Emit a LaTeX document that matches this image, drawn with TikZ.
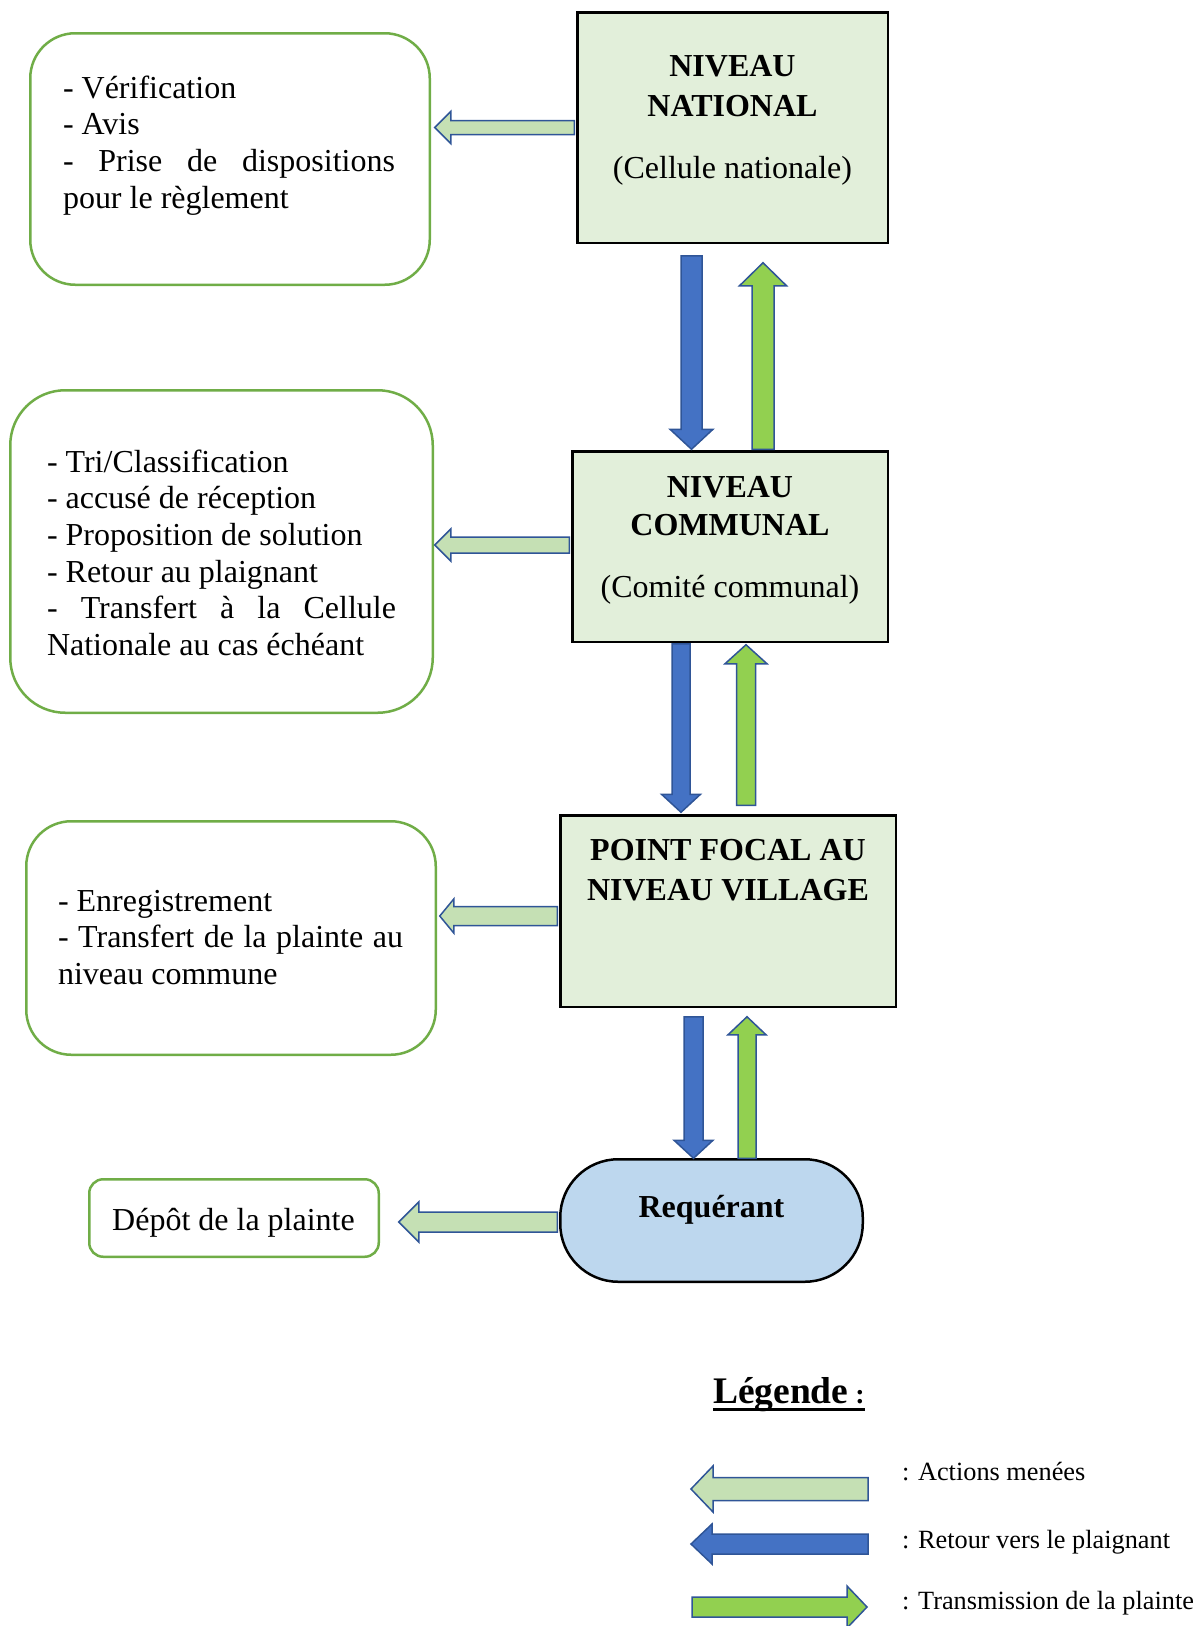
\documentclass[tikz,border=0pt]{standalone}
\usepackage{fontspec}
\setmainfont{Liberation Serif}
\usetikzlibrary{calc}
\definecolor{boxfill}{HTML}{E2EFDA}
\definecolor{gborder}{HTML}{70AD47}
\definecolor{actfill}{HTML}{C5E0B4}
\definecolor{arrline}{HTML}{2F5597}
\definecolor{retfill}{HTML}{4472C4}
\definecolor{trfill}{HTML}{92D050}
\definecolor{reqfill}{HTML}{BDD7EE}
% horizontal block arrow: style, tail, tip, shaft half, head half, head length (negative = points right)
\newcommand{\harr}[6]{\draw[#1] let \p1=(#2), \p2=(#3) in
  ({\x1},{\y1+#4pt}) -- ({\x2+(#6pt)},{\y1+#4pt}) -- ({\x2+(#6pt)},{\y1+#5pt}) -- ({\x2},{\y1})
  -- ({\x2+(#6pt)},{\y1-#5pt}) -- ({\x2+(#6pt)},{\y1-#4pt}) -- ({\x1},{\y1-#4pt}) -- cycle;}
% vertical block arrow: style, tail, tip, shaft half, head half, head length (negative = points up)
\newcommand{\varr}[6]{\draw[#1] let \p1=(#2), \p2=(#3) in
  ({\x1-#4pt},{\y1}) -- ({\x1-#4pt},{\y2+(#6pt)}) -- ({\x1-#5pt},{\y2+(#6pt)}) -- ({\x1},{\y2})
  -- ({\x1+#5pt},{\y2+(#6pt)}) -- ({\x1+#4pt},{\y2+(#6pt)}) -- ({\x1+#4pt},{\y1}) -- cycle;}
\tikzset{
  levelbox/.style={draw=black, line width=2.5pt, fill=boxfill, inner sep=0pt, outer sep=0pt},
  actbox/.style={draw=gborder, line width=2.5pt, fill=white, inner sep=0pt, outer sep=0pt},
  reqbox/.style={draw=black, line width=2.5pt, fill=reqfill, inner sep=0pt, outer sep=0pt, rounded corners=58pt},
  body/.style={inner sep=0pt, outer sep=0pt, font=\fontsize{32}{36.7}\selectfont},
  legtext/.style={inner sep=0pt, outer sep=0pt, anchor=base west, font=\fontsize{26.3}{30}\selectfont},
  actarrow/.style={draw=arrline, line width=1.5pt, fill=actfill, line join=miter},
  retarrow/.style={draw=arrline, line width=1.5pt, fill=retfill, line join=miter},
  trarrow/.style={draw=arrline, line width=1.5pt, fill=trfill, line join=miter}
}
\begin{document}
\begin{tikzpicture}[x=1pt,y=-1pt]
\useasboundingbox (0,0) rectangle (1204,1626);
% level boxes
\node[levelbox, minimum width=310.5pt, minimum height=230.5pt] (nat) at (732.5,127.5) {};
\node[levelbox, minimum width=315.5pt, minimum height=190.5pt] (com) at (730,546.5) {};
\node[levelbox, minimum width=335.5pt, minimum height=191.5pt] (vil) at (728,911) {};
\node[reqbox, minimum width=302.5pt, minimum height=122.5pt] (req) at (711.5,1220.5) {};
% action boxes
\node[actbox, rounded corners=45pt, minimum width=399.5pt, minimum height=251.5pt] (b1) at (230,159) {};
\node[actbox, rounded corners=55pt, minimum width=422.5pt, minimum height=322.5pt] (b2) at (221.5,551.5) {};
\node[actbox, rounded corners=45pt, minimum width=409.5pt, minimum height=233.5pt] (b3) at (231,938) {};
\node[actbox, rounded corners=14pt, minimum width=289.5pt, minimum height=77.5pt] (b4) at (234,1218) {};
% texts of level boxes
\node[body, anchor=base] (natT) at (732.5,76) {\parbox[t]{305pt}{\centering\fontsize{32}{40}\selectfont\bfseries NIVEAU\\NATIONAL\\[22pt]\mdseries (Cellule nationale)}};
\node[body, anchor=base] (comT) at (730,497) {\parbox[t]{310pt}{\centering\fontsize{32}{38}\selectfont\bfseries NIVEAU\\COMMUNAL\\[24pt]\mdseries (Comité communal)}};
\node[body, anchor=base] (vilT) at (728,860) {\parbox[t]{330pt}{\centering\fontsize{32}{40}\selectfont\bfseries POINT FOCAL AU\\NIVEAU VILLAGE}};
\node[body, anchor=base, font=\fontsize{32}{36.7}\selectfont\bfseries] (reqT) at (711.5,1217) {Requérant};
% texts of action boxes
\node[body, anchor=base west] (b1T) at (63,98) {\parbox[t]{332pt}{- Vérification\\- Avis\\\makebox[\linewidth][s]{- Prise de dispositions}\\pour le règlement}};
\node[body, anchor=base west] (b2T) at (47,472) {\parbox[t]{349pt}{- Tri/Classification\\- accusé de réception\\- Proposition de solution\\- Retour au plaignant\\\makebox[\linewidth][s]{- Transfert à la Cellule}\\Nationale au cas échéant}};
\node[body, anchor=base west] (b3T) at (58,911) {\parbox[t]{345pt}{- Enregistrement\\\makebox[\linewidth][s]{- Transfert de la plainte au}\\niveau commune}};
\node[body, anchor=base] (b4T) at (233.5,1230) {Dépôt de la plainte};
% actions arrows
\harr{actarrow}{$(nat.west)+(-3,0)$}{$(b1.east)+(5,0)$}{7}{16}{16}
\harr{actarrow}{$(com.west)+(-3,-1.5)$}{$(b2.east)+(2,0)$}{8}{16}{16}
\harr{actarrow}{$(vil.west)+(-3,5)$}{$(b3.east)+(4,0)$}{9.5}{17}{14}
\harr{actarrow}{$(req.west)+(-3,1.5)$}{$(b4.east)+(20,0)$}{10}{20}{20}
% return arrows (down)
\varr{retarrow}{$(nat.south)+(-41,13)$}{$(com.north)+(-39,-2)$}{10.5}{21.5}{20}
\varr{retarrow}{$(com.south)+(-49,2)$}{$(vil.north)+(-47,-3)$}{9}{19.5}{18}
\varr{retarrow}{$(vil.south)+(-34.5,10)$}{$(req.north)+(-18,-1)$}{9.5}{19.5}{18}
% transmission arrows (up)
\varr{trarrow}{$(com.north)+(33,-2)$}{$(nat.south)+(30.5,20)$}{11}{23.5}{-23}
\varr{trarrow}{$(vil.north)+(18,-10)$}{$(com.south)+(16,3)$}{9.5}{21}{-19}
\varr{trarrow}{$(req.north)+(35.5,-1)$}{$(vil.south)+(19,10)$}{9}{19}{-18}
% legend
\node[inner sep=0pt, outer sep=0pt, anchor=base west, font=\fontsize{37.5}{40}\selectfont\bfseries] (legT) at (713,1403)
  {\setbox0\hbox{Légende\fontsize{28}{30}\selectfont\ :}\rlap{\rule[-8pt]{\wd0}{3.5pt}}\box0};
\coordinate (l1a) at (868,1489); \coordinate (l1b) at (691,1489);
\coordinate (l2a) at (868,1544); \coordinate (l2b) at (691,1544);
\coordinate (l3a) at (692,1607); \coordinate (l3b) at (867,1607);
\harr{actarrow}{l1a}{l1b}{11.5}{23}{22}
\harr{retarrow}{l2a}{l2b}{10}{20}{21}
\harr{trarrow}{l3a}{l3b}{10}{21}{-20}
\node[legtext] (lg1) at (902,1480) {: Actions menées};
\node[legtext] (lg2) at (902,1548) {: Retour vers le plaignant};
\node[legtext] (lg3) at (902,1609) {: Transmission de la plainte};
\end{tikzpicture}
\end{document}
